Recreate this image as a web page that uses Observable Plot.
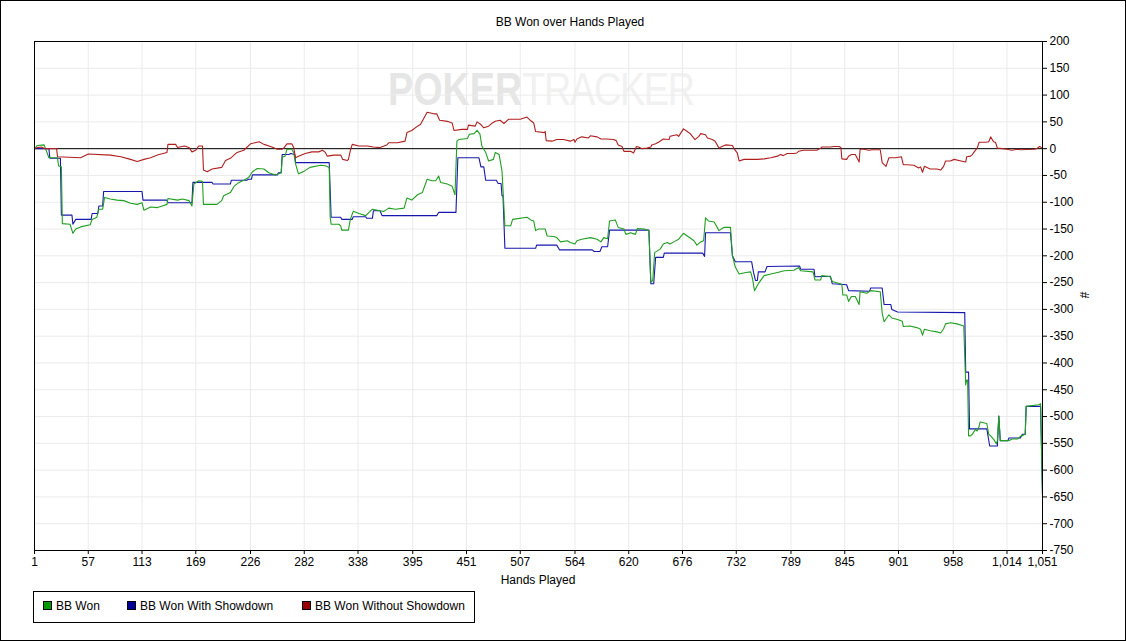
<!DOCTYPE html>
<html>
<head>
<meta charset="utf-8">
<script src="https://cdn.jsdelivr.net/npm/d3@7"></script>
<script src="https://cdn.jsdelivr.net/npm/@observablehq/plot@0.6"></script>
<style>
  html, body { margin: 0; padding: 0; background: #fff; }
  #wrap { position: relative; width: 1126px; height: 641px; overflow: hidden; font-family: "Liberation Sans", Arial, sans-serif; }
  #border { position: absolute; left: 0; top: 0; width: 1126px; height: 641px; box-sizing: border-box; border: 1px solid #000; pointer-events: none; }
  #title { position: absolute; left: 14px; top: 15px; width: 1112px; text-align: center; font-size: 12px; line-height: 14px; color: #000; }
  #xlabel { position: absolute; left: 0; top: 573px; width: 1076px; text-align: center; font-size: 12px; line-height: 14px; }
  #ylabel { position: absolute; left: 1081px; top: 288px; font-size: 12px; line-height: 14px; transform: rotate(90deg); }
  #watermark { position: absolute; left: 388px; top: 66px; font-family: "Liberation Sans", sans-serif; font-size: 46px; line-height: 46px; white-space: nowrap; transform: scaleX(0.82); transform-origin: 0 0; }
  #watermark .a { color: #e6e6e6; font-weight: bold; }
  #watermark .b { color: #f1f1f1; letter-spacing: -1.5px; }
  #chart { position: absolute; left: 0; top: 0; }
  #legend { position: absolute; left: 33px; top: 591px; width: 442px; height: 32px; box-sizing: border-box; border: 1px solid #000; font-size: 12px; line-height: 14px; }
  #legend .sw { position: absolute; top: 9px; width: 9px; height: 9px; box-sizing: border-box; border: 1px solid #000; }
  #legend .tx { position: absolute; top: 7px; white-space: nowrap; }
</style>
</head>
<body>
<div id="wrap">
  <div id="watermark"><span class="a">POKER</span><span class="b">TRACKER</span></div>
  <div id="chart"></div>
  <div id="title"></div>
  <div id="xlabel"></div>
  <div id="ylabel"></div>
  <div id="legend"></div>
  <div id="border"></div>
</div>
<script>
// ---- labels ----
const chartTitle = "BB Won over Hands Played";
const xAxisLabel = "Hands Played";
const yAxisLabel = "#";
const seriesNames = ["BB Won", "BB Won With Showdown", "BB Won Without Showdown"];
const seriesColors = ["#1f9f1f", "#1717b0", "#b01f1f"];
const legendColors = ["#009900", "#000099", "#990000"];

// ---- axis ticks ----
const xTicks = [1, 57, 113, 169, 226, 282, 338, 395, 451, 507, 564, 620, 676, 732, 789, 845, 901, 958, 1014, 1051];
const yTicks = [200, 150, 100, 50, 0, -50, -100, -150, -200, -250, -300, -350, -400, -450, -500, -550, -600, -650, -700, -750];

// ---- series: [hand, cumulative BB] ----
const bbWon = [[1,0],[4,6],[11,7],[12.5,0],[16,-17],[25,-17],[26,-32],[29,-34],[30,-140],[38,-141],[41,-158],[44,-150],[49,-146],[59,-142],[61,-132],[66,-128],[68,-113],[72,-113],[74,-91],[80,-94],[87,-96],[94,-97],[101,-102],[108,-104],[113,-101],[115,-115],[122,-109],[129,-110],[134,-107],[139,-104],[140,-93],[150,-96],[155,-94],[162,-97],[165,-107],[167,-66],[172,-60],[176,-61],[177,-104],[191,-104],[196,-97],[198,-88],[205,-82],[209,-70],[214,-63],[219,-59],[224,-54],[228,-43],[233,-37],[240,-38],[245,-45],[252,-49],[258,-45],[259,-16],[262,-14],[264,-1],[269,-1],[271,-7],[273,-29],[276,-47],[282,-42],[288,-35],[299,-31],[304,-32],[308,-35],[309,-128],[310,-141],[318,-141],[320,-144],[321,-152],[328,-152],[330,-132],[333,-117],[339,-121],[346,-125],[353,-113],[361,-116],[365,-117],[370,-111],[377,-113],[386,-111],[389,-92],[394,-96],[400,-86],[405,-82],[410,-57],[415,-60],[419,-60],[422,-51],[424,-63],[431,-66],[436,-70],[439,-86],[441,14],[443,17],[452,19],[454,27],[459,28],[462,34],[465,27],[467,5],[471,-7],[474,-23],[479,-20],[481,-7],[485,-11],[488,-42],[491,-144],[497,-144],[499,-132],[514,-128],[518,-133],[521,-135],[523,-153],[526,-150],[533,-150],[535,-163],[542,-164],[545,-166],[549,-174],[556,-172],[559,-175],[564,-178],[566,-172],[571,-169],[580,-166],[587,-169],[591,-174],[594,-166],[598,-168],[600,-135],[606,-133],[609,-147],[615,-150],[617,-160],[622,-157],[627,-160],[629,-149],[636,-150],[641,-153],[643,-249],[645,-246],[647,-194],[653,-187],[656,-178],[660,-175],[663,-178],[667,-174],[672,-169],[677,-158],[681,-163],[688,-172],[691,-180],[695,-174],[698,-172],[700,-129],[703,-135],[709,-137],[714,-153],[719,-147],[726,-147],[728,-200],[731,-221],[735,-234],[742,-231],[747,-230],[749,-243],[751,-265],[755,-252],[761,-237],[768,-234],[775,-231],[782,-228],[792,-227],[797,-222],[799,-228],[812,-230],[814,-245],[820,-245],[821,-237],[830,-239],[832,-248],[842,-253],[843,-273],[847,-273],[849,-285],[852,-276],[856,-276],[860,-291],[861,-267],[868,-270],[872,-265],[882,-267],[884,-307],[886,-323],[891,-310],[894,-316],[900,-319],[905,-322],[906,-332],[913,-331],[920,-334],[924,-337],[926,-348],[928,-337],[934,-340],[941,-342],[945,-344],[948,-336],[950,-327],[955,-325],[962,-327],[969,-331],[971,-441],[972,-432],[973,-432],[974,-536],[976,-536],[978,-533],[979,-530],[981,-524],[983,-527],[985,-518],[986,-510],[993,-513],[995,-533],[997,-536],[1000,-542],[1003,-551],[1004,-545],[1005.5,-499],[1007,-545],[1016,-545],[1019,-542],[1025,-542],[1028,-537],[1033,-533],[1034,-481],[1047,-478],[1049,-476],[1051,-647]];

const bbWonShowdown = [[1,0],[16,0],[17,-18],[28,-18],[29,-124],[40,-124],[41,-141],[44,-132],[60,-132],[61,-121],[67,-121],[68,-107],[72,-107],[73,-80],[113,-80],[114,-96],[139,-96],[140,-101],[165,-101],[166,-63],[186,-63],[187,-66],[205,-66],[206,-59],[222,-59],[224,-57],[227,-57],[228,-49],[254,-49],[255,-45],[258,-45],[259,-11],[266,-11],[268,-9],[272,-11],[273,-26],[308,-26],[310,-128],[320,-128],[321,-132],[332,-132],[333,-127],[346,-127],[347,-130],[353,-130],[354,-116],[361,-116],[363,-125],[420,-125],[422,-119],[440,-119],[442,-17],[464,-17],[466,-34],[469,-34],[471,-59],[482,-59],[484,-65],[487,-65],[488,-88],[489,-88],[491,-186],[523,-186],[524,-180],[545,-180],[548,-189],[582,-189],[584,-192],[590,-192],[592,-183],[598,-183],[600,-152],[641,-152],[643,-252],[646,-252],[648,-203],[656,-203],[657,-195],[697,-195],[699,-201],[700,-157],[726,-157],[728,-200],[731,-211],[748,-211],[750,-231],[752,-246],[754,-246],[755,-230],[762,-230],[764,-220],[798,-219],[799,-225],[813,-225],[814,-239],[830,-238],[832,-252],[847,-254],[849,-265],[871,-266],[872,-260],[884,-260],[886,-291],[893,-291],[894,-300],[900,-305],[970,-306],[971,-417],[974,-417],[975,-523],[993,-523],[996,-555],[1004,-555],[1005.5,-499],[1007,-545],[1015,-545],[1016,-540],[1028,-540],[1030,-533],[1033,-533],[1034,-481],[1049,-481],[1051,-647]];

const bbWonNoShowdown = [[1,0],[4,2],[8,3],[12,0],[24,0],[25,-15],[49,-17],[57,-10],[80,-12],[91,-15],[101,-20],[108,-24],[115,-20],[122,-17],[129,-12],[139,-7],[140,8],[148,8],[150,2],[157,5],[162,2],[165,-6],[169,-3],[172,5],[176,5],[177,-40],[181,-43],[186,-38],[196,-35],[200,-22],[205,-18],[212,-7],[219,-3],[226,9],[235,13],[240,8],[247,4],[254,-1],[259,-1],[261,2],[264,9],[269,9],[271,2],[273,-17],[276,-14],[283,-9],[290,-6],[297,-6],[301,-3],[304,-7],[306,-14],[313,-12],[320,-12],[322,-20],[327,-22],[328,-20],[330,-3],[332,8],[339,5],[348,5],[354,3],[361,2],[368,7],[370,11],[379,11],[387,14],[389,30],[394,34],[400,42],[403,45],[410,68],[417,65],[420,65],[423,53],[431,51],[436,48],[438,34],[446,36],[452,36],[453,44],[460,42],[462,50],[466,45],[469,39],[474,42],[478,48],[481,51],[486,53],[490,47],[495,55],[507,55],[514,59],[518,52],[521,48],[523,32],[532,30],[533,32],[534,15],[540,14],[545,17],[552,17],[559,14],[563,17],[564,12],[566,18],[571,22],[578,20],[580,24],[587,22],[591,18],[597,18],[604,17],[607,15],[609,7],[613,4],[615,-5],[622,-5],[625,-8],[628,4],[630,3],[634,0],[639,1],[643,3],[644,7],[648,9],[651,12],[656,18],[662,17],[663,23],[670,26],[672,23],[677,37],[681,32],[684,28],[689,17],[693,23],[695,28],[700,26],[702,20],[707,17],[710,14],[714,1],[717,4],[721,7],[728,6],[730,-1],[733,-8],[735,-23],[740,-20],[754,-20],[761,-19],[768,-17],[775,-14],[778,-11],[781,-13],[785,-9],[792,-9],[795,-8],[797,-5],[802,-3],[816,-3],[820,1],[821,3],[830,3],[834,4],[839,4],[841,2],[842,-19],[847,-20],[849,-14],[852,-11],[856,-11],[860,-25],[861,-1],[865,-1],[870,-3],[874,-2],[882,-2],[884,-26],[888,-33],[891,-17],[898,-17],[904,-15],[906,-30],[910,-30],[917,-31],[922,-36],[924,-34],[926,-44],[928,-33],[934,-38],[941,-38],[945,-40],[948,-33],[950,-23],[955,-23],[959,-20],[966,-23],[971,-25],[972,-15],[976,-14],[978,-11],[979,-8],[983,1],[985,12],[992,12],[995,13],[997,22],[1000,13],[1002,12],[1004,1],[1009,0],[1014,-1],[1019,-3],[1025,-1],[1028,-2],[1042,-1],[1045,0],[1048,4],[1051,1]];

// ---- text ----
document.getElementById("title").textContent = chartTitle;
document.getElementById("xlabel").textContent = xAxisLabel;
document.getElementById("ylabel").textContent = yAxisLabel;

const legendX = [[9, 22], [93, 106], [268, 281]];
const legend = document.getElementById("legend");
seriesNames.forEach((name, i) => {
  const sw = document.createElement("div");
  sw.className = "sw";
  sw.style.left = legendX[i][0] + "px";
  sw.style.background = legendColors[i];
  legend.appendChild(sw);
  const tx = document.createElement("div");
  tx.className = "tx";
  tx.style.left = legendX[i][1] + "px";
  tx.textContent = name;
  legend.appendChild(tx);
});

// ---- chart ----
const gridColor = "#ebebeb";
const plot = Plot.plot({
  width: 1126,
  height: 600,
  marginTop: 41,
  marginLeft: 34,
  marginRight: 84,
  marginBottom: 50,
  style: { background: "transparent", fontFamily: "Liberation Sans, Arial, sans-serif", fontSize: "12px", color: "#000" },
  x: { domain: [1, 1051], label: null },
  y: { domain: [-750, 200], label: null },
  marks: [
    Plot.ruleX(xTicks, { stroke: gridColor, strokeWidth: 1 }),
    Plot.ruleY(yTicks, { stroke: gridColor, strokeWidth: 1 }),
    Plot.ruleY([0], { stroke: "#000", strokeWidth: 1 }),
    Plot.line(bbWonShowdown, { x: d => d[0], y: d => d[1], stroke: seriesColors[1], strokeWidth: 1.1 }),
    Plot.line(bbWon, { x: d => d[0], y: d => d[1], stroke: seriesColors[0], strokeWidth: 1.1 }),
    Plot.line(bbWonNoShowdown, { x: d => d[0], y: d => d[1], stroke: seriesColors[2], strokeWidth: 1.1 }),
    Plot.frame({ stroke: "#000", strokeWidth: 1 }),
    Plot.axisX(xTicks, { tickSize: 4, tickPadding: 3, tickFormat: d3.format(","), label: null, fill: "#000" }),
    Plot.axisY(yTicks, { anchor: "right", tickSize: 4, tickPadding: 3, tickFormat: d => String(d), label: null, fill: "#000" })
  ]
});
document.getElementById("chart").appendChild(plot);
</script>
</body>
</html>
